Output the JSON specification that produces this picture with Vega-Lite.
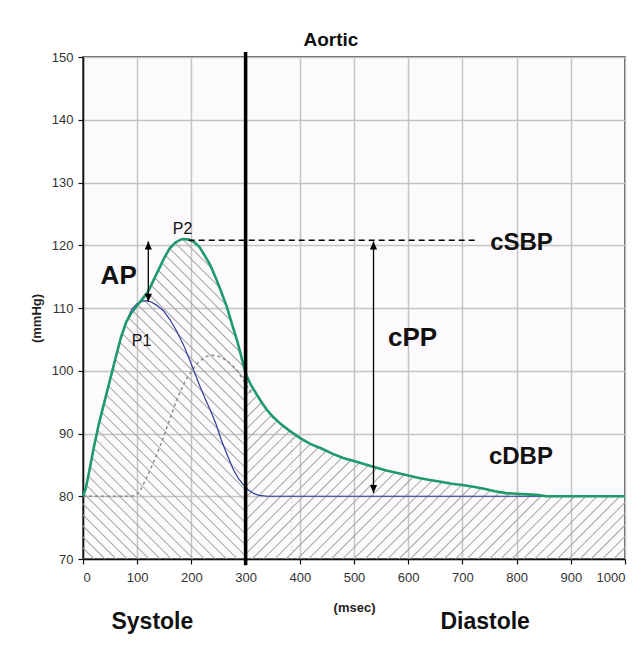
{
  "$schema": "https://vega.github.io/schema/vega-lite/v6.json",
  "width": 542,
  "height": 502,
  "autosize": "none",
  "padding": {"left": 83, "top": 57, "right": 18, "bottom": 91},
  "background": "#ffffff",
  "title": {"text": "Aortic", "font": "Liberation Sans", "fontSize": 19, "fontWeight": "bold", "color": "#111111", "dx": -23, "offset": 0},
  "config": {
    "font": "Liberation Sans",
    "view": {"stroke": "#222222", "strokeWidth": 1.5, "fill": "#fcfafc"},
    "axis": {"domainColor": "#111111", "domainWidth": 1.5, "tickColor": "#111111", "tickWidth": 1.2, "tickSize": 5, "labelFont": "Liberation Sans", "labelFontSize": 13, "labelColor": "#333333", "gridColor": "#c4c4c4", "gridWidth": 1.5, "titleFont": "Liberation Sans", "titleFontSize": 13, "titleFontWeight": "bold", "titleColor": "#222222"}
  },
  "datasets": {
    "green": [
      {"t":0,"p":80},{"t":5,"p":81.2},{"t":10,"p":83.3},{"t":20,"p":87.8},{"t":30,"p":91.8},{"t":40,"p":95.2},{"t":50,"p":98.6},{"t":60,"p":102},{"t":70,"p":105.3},{"t":80,"p":107.8},{"t":90,"p":109.3},{"t":100,"p":110.4},{"t":110,"p":111.5},{"t":120,"p":112.6},{"t":130,"p":114.4},{"t":140,"p":116.2},{"t":150,"p":118},{"t":160,"p":119.5},{"t":170,"p":120.4},{"t":180,"p":120.9},{"t":185,"p":121},{"t":195,"p":120.9},{"t":205,"p":120.5},{"t":215,"p":119.7},{"t":225,"p":118.3},{"t":235,"p":116.8},{"t":245,"p":114.8},{"t":255,"p":112.6},{"t":265,"p":110.3},{"t":275,"p":107.4},{"t":285,"p":104.6},{"t":295,"p":101.3},{"t":300,"p":99.6},{"t":310,"p":97.7},{"t":320,"p":96.3},{"t":330,"p":94.9},{"t":340,"p":93.7},{"t":350,"p":92.7},{"t":365,"p":91.5},{"t":380,"p":90.5},{"t":400,"p":89.3},{"t":420,"p":88.3},{"t":440,"p":87.6},{"t":460,"p":86.8},{"t":480,"p":86.1},{"t":500,"p":85.6},{"t":520,"p":85.1},{"t":540,"p":84.6},{"t":560,"p":84.1},{"t":580,"p":83.7},{"t":600,"p":83.3},{"t":620,"p":82.9},{"t":640,"p":82.6},{"t":660,"p":82.3},{"t":680,"p":82},{"t":700,"p":81.8},{"t":720,"p":81.5},{"t":740,"p":81.2},{"t":760,"p":80.8},{"t":780,"p":80.5},{"t":800,"p":80.4},{"t":820,"p":80.3},{"t":840,"p":80.2},{"t":855,"p":80},{"t":1000,"p":80}
    ],
    "blue": [
      {"t":0,"p":80},{"t":5,"p":81.2},{"t":10,"p":83.3},{"t":20,"p":87.8},{"t":30,"p":91.8},{"t":40,"p":95.2},{"t":50,"p":98.6},{"t":60,"p":102},{"t":70,"p":105.3},{"t":80,"p":107.9},{"t":90,"p":109.8},{"t":100,"p":110.7},{"t":110,"p":111.1},{"t":117,"p":111.15},{"t":125,"p":111},{"t":135,"p":110.5},{"t":148,"p":109.6},{"t":160,"p":108.2},{"t":173,"p":106.3},{"t":185,"p":104.2},{"t":195,"p":102.1},{"t":205,"p":99.9},{"t":215,"p":97.7},{"t":225,"p":95.6},{"t":235,"p":93.7},{"t":245,"p":91.6},{"t":255,"p":89},{"t":265,"p":86.8},{"t":277,"p":84.3},{"t":287,"p":82.8},{"t":296,"p":81.8},{"t":305,"p":81},{"t":315,"p":80.45},{"t":325,"p":80.15},{"t":340,"p":80},{"t":855,"p":80}
    ],
    "reflected": [
      {"t":0,"p":80},{"t":90,"p":80},{"t":97,"p":80.2},{"t":105,"p":80.8},{"t":117,"p":82.9},{"t":130,"p":85.4},{"t":142,"p":87.9},{"t":157,"p":91.5},{"t":173,"p":95.4},{"t":190,"p":98.6},{"t":210,"p":101.1},{"t":225,"p":102.2},{"t":237,"p":102.5},{"t":250,"p":102.3},{"t":262,"p":101.8},{"t":274,"p":101},{"t":285,"p":100},{"t":295,"p":98.6},{"t":305,"p":97.2},{"t":312,"p":96.3}
    ]
  },
  "encoding": {
    "x": {"field": "t", "type": "quantitative", "scale": {"domain": [0, 1000], "nice": false}, "axis": {"values": [0,100,200,300,400,500,600,700,800,900,1000], "format": "d", "title": "(msec)", "labelPadding": 7, "titleY": 48, "titleBaseline": "middle"}},
    "y": {"field": "p", "type": "quantitative", "scale": {"domain": [70, 150], "nice": false, "zero": false}, "axis": {"values": [70,80,90,100,110,120,130,140,150], "title": "(mmHg)", "labelPadding": 5, "titleX": -47, "titleY": 261, "titleAngle": -90, "titleAlign": "center", "titleBaseline": "middle"}}
  },
  "layer": [
    {
      "data": {"name": "green"},
      "transform": [{"filter": "datum.t <= 300"}],
      "mark": {"type": "area", "fill": {"gradient": "linear", "x1": 0, "y1": 1, "x2": 0.696, "y2": -0.37, "stops": [
        {"offset":0,"color":"#a4a4a4"},{"offset":0.0025,"color":"rgba(164,164,164,0)"},
        {"offset":0.0175,"color":"rgba(164,164,164,0)"},{"offset":0.02,"color":"#a4a4a4"},{"offset":0.0225,"color":"rgba(164,164,164,0)"},
        {"offset":0.0375,"color":"rgba(164,164,164,0)"},{"offset":0.04,"color":"#a4a4a4"},{"offset":0.0425,"color":"rgba(164,164,164,0)"},
        {"offset":0.0575,"color":"rgba(164,164,164,0)"},{"offset":0.06,"color":"#a4a4a4"},{"offset":0.0625,"color":"rgba(164,164,164,0)"},
        {"offset":0.0775,"color":"rgba(164,164,164,0)"},{"offset":0.08,"color":"#a4a4a4"},{"offset":0.0825,"color":"rgba(164,164,164,0)"},
        {"offset":0.0975,"color":"rgba(164,164,164,0)"},{"offset":0.1,"color":"#a4a4a4"},{"offset":0.1025,"color":"rgba(164,164,164,0)"},
        {"offset":0.1175,"color":"rgba(164,164,164,0)"},{"offset":0.12,"color":"#a4a4a4"},{"offset":0.1225,"color":"rgba(164,164,164,0)"},
        {"offset":0.1375,"color":"rgba(164,164,164,0)"},{"offset":0.14,"color":"#a4a4a4"},{"offset":0.1425,"color":"rgba(164,164,164,0)"},
        {"offset":0.1575,"color":"rgba(164,164,164,0)"},{"offset":0.16,"color":"#a4a4a4"},{"offset":0.1625,"color":"rgba(164,164,164,0)"},
        {"offset":0.1775,"color":"rgba(164,164,164,0)"},{"offset":0.18,"color":"#a4a4a4"},{"offset":0.1825,"color":"rgba(164,164,164,0)"},
        {"offset":0.1975,"color":"rgba(164,164,164,0)"},{"offset":0.2,"color":"#a4a4a4"},{"offset":0.2025,"color":"rgba(164,164,164,0)"},
        {"offset":0.2175,"color":"rgba(164,164,164,0)"},{"offset":0.22,"color":"#a4a4a4"},{"offset":0.2225,"color":"rgba(164,164,164,0)"},
        {"offset":0.2375,"color":"rgba(164,164,164,0)"},{"offset":0.24,"color":"#a4a4a4"},{"offset":0.2425,"color":"rgba(164,164,164,0)"},
        {"offset":0.2575,"color":"rgba(164,164,164,0)"},{"offset":0.26,"color":"#a4a4a4"},{"offset":0.2625,"color":"rgba(164,164,164,0)"},
        {"offset":0.2775,"color":"rgba(164,164,164,0)"},{"offset":0.28,"color":"#a4a4a4"},{"offset":0.2825,"color":"rgba(164,164,164,0)"},
        {"offset":0.2975,"color":"rgba(164,164,164,0)"},{"offset":0.3,"color":"#a4a4a4"},{"offset":0.3025,"color":"rgba(164,164,164,0)"},
        {"offset":0.3175,"color":"rgba(164,164,164,0)"},{"offset":0.32,"color":"#a4a4a4"},{"offset":0.3225,"color":"rgba(164,164,164,0)"},
        {"offset":0.3375,"color":"rgba(164,164,164,0)"},{"offset":0.34,"color":"#a4a4a4"},{"offset":0.3425,"color":"rgba(164,164,164,0)"},
        {"offset":0.3575,"color":"rgba(164,164,164,0)"},{"offset":0.36,"color":"#a4a4a4"},{"offset":0.3625,"color":"rgba(164,164,164,0)"},
        {"offset":0.3775,"color":"rgba(164,164,164,0)"},{"offset":0.38,"color":"#a4a4a4"},{"offset":0.3825,"color":"rgba(164,164,164,0)"},
        {"offset":0.3975,"color":"rgba(164,164,164,0)"},{"offset":0.4,"color":"#a4a4a4"},{"offset":0.4025,"color":"rgba(164,164,164,0)"},
        {"offset":0.4175,"color":"rgba(164,164,164,0)"},{"offset":0.42,"color":"#a4a4a4"},{"offset":0.4225,"color":"rgba(164,164,164,0)"},
        {"offset":0.4375,"color":"rgba(164,164,164,0)"},{"offset":0.44,"color":"#a4a4a4"},{"offset":0.4425,"color":"rgba(164,164,164,0)"},
        {"offset":0.4575,"color":"rgba(164,164,164,0)"},{"offset":0.46,"color":"#a4a4a4"},{"offset":0.4625,"color":"rgba(164,164,164,0)"},
        {"offset":0.4775,"color":"rgba(164,164,164,0)"},{"offset":0.48,"color":"#a4a4a4"},{"offset":0.4825,"color":"rgba(164,164,164,0)"},
        {"offset":0.4975,"color":"rgba(164,164,164,0)"},{"offset":0.5,"color":"#a4a4a4"},{"offset":0.5025,"color":"rgba(164,164,164,0)"},
        {"offset":0.5175,"color":"rgba(164,164,164,0)"},{"offset":0.52,"color":"#a4a4a4"},{"offset":0.5225,"color":"rgba(164,164,164,0)"},
        {"offset":0.5375,"color":"rgba(164,164,164,0)"},{"offset":0.54,"color":"#a4a4a4"},{"offset":0.5425,"color":"rgba(164,164,164,0)"},
        {"offset":0.5575,"color":"rgba(164,164,164,0)"},{"offset":0.56,"color":"#a4a4a4"},{"offset":0.5625,"color":"rgba(164,164,164,0)"},
        {"offset":0.5775,"color":"rgba(164,164,164,0)"},{"offset":0.58,"color":"#a4a4a4"},{"offset":0.5825,"color":"rgba(164,164,164,0)"},
        {"offset":0.5975,"color":"rgba(164,164,164,0)"},{"offset":0.6,"color":"#a4a4a4"},{"offset":0.6025,"color":"rgba(164,164,164,0)"},
        {"offset":0.6175,"color":"rgba(164,164,164,0)"},{"offset":0.62,"color":"#a4a4a4"},{"offset":0.6225,"color":"rgba(164,164,164,0)"},
        {"offset":0.6375,"color":"rgba(164,164,164,0)"},{"offset":0.64,"color":"#a4a4a4"},{"offset":0.6425,"color":"rgba(164,164,164,0)"},
        {"offset":0.6575,"color":"rgba(164,164,164,0)"},{"offset":0.66,"color":"#a4a4a4"},{"offset":0.6625,"color":"rgba(164,164,164,0)"},
        {"offset":0.6775,"color":"rgba(164,164,164,0)"},{"offset":0.68,"color":"#a4a4a4"},{"offset":0.6825,"color":"rgba(164,164,164,0)"},
        {"offset":0.6975,"color":"rgba(164,164,164,0)"},{"offset":0.7,"color":"#a4a4a4"},{"offset":0.7025,"color":"rgba(164,164,164,0)"},
        {"offset":0.7175,"color":"rgba(164,164,164,0)"},{"offset":0.72,"color":"#a4a4a4"},{"offset":0.7225,"color":"rgba(164,164,164,0)"},
        {"offset":0.7375,"color":"rgba(164,164,164,0)"},{"offset":0.74,"color":"#a4a4a4"},{"offset":0.7425,"color":"rgba(164,164,164,0)"},
        {"offset":0.7575,"color":"rgba(164,164,164,0)"},{"offset":0.76,"color":"#a4a4a4"},{"offset":0.7625,"color":"rgba(164,164,164,0)"},
        {"offset":0.7775,"color":"rgba(164,164,164,0)"},{"offset":0.78,"color":"#a4a4a4"},{"offset":0.7825,"color":"rgba(164,164,164,0)"},
        {"offset":0.7975,"color":"rgba(164,164,164,0)"},{"offset":0.8,"color":"#a4a4a4"},{"offset":0.8025,"color":"rgba(164,164,164,0)"},
        {"offset":0.8175,"color":"rgba(164,164,164,0)"},{"offset":0.82,"color":"#a4a4a4"},{"offset":0.8225,"color":"rgba(164,164,164,0)"},
        {"offset":0.8375,"color":"rgba(164,164,164,0)"},{"offset":0.84,"color":"#a4a4a4"},{"offset":0.8425,"color":"rgba(164,164,164,0)"},
        {"offset":0.8575,"color":"rgba(164,164,164,0)"},{"offset":0.86,"color":"#a4a4a4"},{"offset":0.8625,"color":"rgba(164,164,164,0)"},
        {"offset":0.8775,"color":"rgba(164,164,164,0)"},{"offset":0.88,"color":"#a4a4a4"},{"offset":0.8825,"color":"rgba(164,164,164,0)"}
      ]}},
      "encoding": {"y2": {"datum": 70}}
    },
    {
      "data": {"name": "green"},
      "transform": [{"filter": "datum.t >= 300"}],
      "mark": {"type": "area", "fill": {"gradient": "linear", "x1": 0, "y1": 0, "x2": 1.2015, "y2": 0.588, "stops": [
        {"offset":0,"color":"#a4a4a4"},{"offset":0.0025,"color":"rgba(164,164,164,0)"},
        {"offset":0.0175,"color":"rgba(164,164,164,0)"},{"offset":0.02,"color":"#a4a4a4"},{"offset":0.0225,"color":"rgba(164,164,164,0)"},
        {"offset":0.0375,"color":"rgba(164,164,164,0)"},{"offset":0.04,"color":"#a4a4a4"},{"offset":0.0425,"color":"rgba(164,164,164,0)"},
        {"offset":0.0575,"color":"rgba(164,164,164,0)"},{"offset":0.06,"color":"#a4a4a4"},{"offset":0.0625,"color":"rgba(164,164,164,0)"},
        {"offset":0.0775,"color":"rgba(164,164,164,0)"},{"offset":0.08,"color":"#a4a4a4"},{"offset":0.0825,"color":"rgba(164,164,164,0)"},
        {"offset":0.0975,"color":"rgba(164,164,164,0)"},{"offset":0.1,"color":"#a4a4a4"},{"offset":0.1025,"color":"rgba(164,164,164,0)"},
        {"offset":0.1175,"color":"rgba(164,164,164,0)"},{"offset":0.12,"color":"#a4a4a4"},{"offset":0.1225,"color":"rgba(164,164,164,0)"},
        {"offset":0.1375,"color":"rgba(164,164,164,0)"},{"offset":0.14,"color":"#a4a4a4"},{"offset":0.1425,"color":"rgba(164,164,164,0)"},
        {"offset":0.1575,"color":"rgba(164,164,164,0)"},{"offset":0.16,"color":"#a4a4a4"},{"offset":0.1625,"color":"rgba(164,164,164,0)"},
        {"offset":0.1775,"color":"rgba(164,164,164,0)"},{"offset":0.18,"color":"#a4a4a4"},{"offset":0.1825,"color":"rgba(164,164,164,0)"},
        {"offset":0.1975,"color":"rgba(164,164,164,0)"},{"offset":0.2,"color":"#a4a4a4"},{"offset":0.2025,"color":"rgba(164,164,164,0)"},
        {"offset":0.2175,"color":"rgba(164,164,164,0)"},{"offset":0.22,"color":"#a4a4a4"},{"offset":0.2225,"color":"rgba(164,164,164,0)"},
        {"offset":0.2375,"color":"rgba(164,164,164,0)"},{"offset":0.24,"color":"#a4a4a4"},{"offset":0.2425,"color":"rgba(164,164,164,0)"},
        {"offset":0.2575,"color":"rgba(164,164,164,0)"},{"offset":0.26,"color":"#a4a4a4"},{"offset":0.2625,"color":"rgba(164,164,164,0)"},
        {"offset":0.2775,"color":"rgba(164,164,164,0)"},{"offset":0.28,"color":"#a4a4a4"},{"offset":0.2825,"color":"rgba(164,164,164,0)"},
        {"offset":0.2975,"color":"rgba(164,164,164,0)"},{"offset":0.3,"color":"#a4a4a4"},{"offset":0.3025,"color":"rgba(164,164,164,0)"},
        {"offset":0.3175,"color":"rgba(164,164,164,0)"},{"offset":0.32,"color":"#a4a4a4"},{"offset":0.3225,"color":"rgba(164,164,164,0)"},
        {"offset":0.3375,"color":"rgba(164,164,164,0)"},{"offset":0.34,"color":"#a4a4a4"},{"offset":0.3425,"color":"rgba(164,164,164,0)"},
        {"offset":0.3575,"color":"rgba(164,164,164,0)"},{"offset":0.36,"color":"#a4a4a4"},{"offset":0.3625,"color":"rgba(164,164,164,0)"},
        {"offset":0.3775,"color":"rgba(164,164,164,0)"},{"offset":0.38,"color":"#a4a4a4"},{"offset":0.3825,"color":"rgba(164,164,164,0)"},
        {"offset":0.3975,"color":"rgba(164,164,164,0)"},{"offset":0.4,"color":"#a4a4a4"},{"offset":0.4025,"color":"rgba(164,164,164,0)"},
        {"offset":0.4175,"color":"rgba(164,164,164,0)"},{"offset":0.42,"color":"#a4a4a4"},{"offset":0.4225,"color":"rgba(164,164,164,0)"},
        {"offset":0.4375,"color":"rgba(164,164,164,0)"},{"offset":0.44,"color":"#a4a4a4"},{"offset":0.4425,"color":"rgba(164,164,164,0)"},
        {"offset":0.4575,"color":"rgba(164,164,164,0)"},{"offset":0.46,"color":"#a4a4a4"},{"offset":0.4625,"color":"rgba(164,164,164,0)"},
        {"offset":0.4775,"color":"rgba(164,164,164,0)"},{"offset":0.48,"color":"#a4a4a4"},{"offset":0.4825,"color":"rgba(164,164,164,0)"},
        {"offset":0.4975,"color":"rgba(164,164,164,0)"},{"offset":0.5,"color":"#a4a4a4"},{"offset":0.5025,"color":"rgba(164,164,164,0)"},
        {"offset":0.5175,"color":"rgba(164,164,164,0)"},{"offset":0.52,"color":"#a4a4a4"},{"offset":0.5225,"color":"rgba(164,164,164,0)"},
        {"offset":0.5375,"color":"rgba(164,164,164,0)"},{"offset":0.54,"color":"#a4a4a4"},{"offset":0.5425,"color":"rgba(164,164,164,0)"},
        {"offset":0.5575,"color":"rgba(164,164,164,0)"},{"offset":0.56,"color":"#a4a4a4"},{"offset":0.5625,"color":"rgba(164,164,164,0)"},
        {"offset":0.5775,"color":"rgba(164,164,164,0)"},{"offset":0.58,"color":"#a4a4a4"},{"offset":0.5825,"color":"rgba(164,164,164,0)"},
        {"offset":0.5975,"color":"rgba(164,164,164,0)"},{"offset":0.6,"color":"#a4a4a4"},{"offset":0.6025,"color":"rgba(164,164,164,0)"},
        {"offset":0.6175,"color":"rgba(164,164,164,0)"},{"offset":0.62,"color":"#a4a4a4"},{"offset":0.6225,"color":"rgba(164,164,164,0)"},
        {"offset":0.6375,"color":"rgba(164,164,164,0)"},{"offset":0.64,"color":"#a4a4a4"},{"offset":0.6425,"color":"rgba(164,164,164,0)"},
        {"offset":0.6575,"color":"rgba(164,164,164,0)"},{"offset":0.66,"color":"#a4a4a4"},{"offset":0.6625,"color":"rgba(164,164,164,0)"},
        {"offset":0.6775,"color":"rgba(164,164,164,0)"},{"offset":0.68,"color":"#a4a4a4"},{"offset":0.6825,"color":"rgba(164,164,164,0)"},
        {"offset":0.6975,"color":"rgba(164,164,164,0)"},{"offset":0.7,"color":"#a4a4a4"},{"offset":0.7025,"color":"rgba(164,164,164,0)"},
        {"offset":0.7175,"color":"rgba(164,164,164,0)"},{"offset":0.72,"color":"#a4a4a4"},{"offset":0.7225,"color":"rgba(164,164,164,0)"},
        {"offset":0.7375,"color":"rgba(164,164,164,0)"},{"offset":0.74,"color":"#a4a4a4"},{"offset":0.7425,"color":"rgba(164,164,164,0)"},
        {"offset":0.7575,"color":"rgba(164,164,164,0)"},{"offset":0.76,"color":"#a4a4a4"},{"offset":0.7625,"color":"rgba(164,164,164,0)"},
        {"offset":0.7775,"color":"rgba(164,164,164,0)"},{"offset":0.78,"color":"#a4a4a4"},{"offset":0.7825,"color":"rgba(164,164,164,0)"},
        {"offset":0.7975,"color":"rgba(164,164,164,0)"},{"offset":0.8,"color":"#a4a4a4"},{"offset":0.8025,"color":"rgba(164,164,164,0)"},
        {"offset":0.8175,"color":"rgba(164,164,164,0)"},{"offset":0.82,"color":"#a4a4a4"},{"offset":0.8225,"color":"rgba(164,164,164,0)"},
        {"offset":0.8375,"color":"rgba(164,164,164,0)"},{"offset":0.84,"color":"#a4a4a4"},{"offset":0.8425,"color":"rgba(164,164,164,0)"},
        {"offset":0.8575,"color":"rgba(164,164,164,0)"},{"offset":0.86,"color":"#a4a4a4"},{"offset":0.8625,"color":"rgba(164,164,164,0)"},
        {"offset":0.8775,"color":"rgba(164,164,164,0)"},{"offset":0.88,"color":"#a4a4a4"},{"offset":0.8825,"color":"rgba(164,164,164,0)"},
        {"offset":0.8975,"color":"rgba(164,164,164,0)"},{"offset":0.9,"color":"#a4a4a4"},{"offset":0.9025,"color":"rgba(164,164,164,0)"},
        {"offset":0.9175,"color":"rgba(164,164,164,0)"},{"offset":0.92,"color":"#a4a4a4"},{"offset":0.9225,"color":"rgba(164,164,164,0)"},
        {"offset":0.9375,"color":"rgba(164,164,164,0)"},{"offset":0.94,"color":"#a4a4a4"},{"offset":0.9425,"color":"rgba(164,164,164,0)"},
        {"offset":0.9575,"color":"rgba(164,164,164,0)"},{"offset":0.96,"color":"#a4a4a4"},{"offset":0.9625,"color":"rgba(164,164,164,0)"},
        {"offset":0.9775,"color":"rgba(164,164,164,0)"},{"offset":0.98,"color":"#a4a4a4"},{"offset":0.9825,"color":"rgba(164,164,164,0)"},
        {"offset":0.9975,"color":"rgba(164,164,164,0)"},{"offset":1,"color":"#a4a4a4"}
      ]}},
      "encoding": {"y2": {"datum": 70}}
    },
    {
      "data": {"values": [{"t": 385, "p": 70, "p2": 90.4}]},
      "mark": {"type": "rule", "color": "#b0b0b0", "strokeWidth": 1, "strokeDash": [1, 3]},
      "encoding": {"y2": {"field": "p2"}}
    },
    {
      "data": {"name": "reflected"},
      "mark": {"type": "line", "color": "#8c8c8c", "strokeWidth": 1.5, "strokeDash": [3, 3]},
      "encoding": {}
    },
    {
      "data": {"name": "blue"},
      "mark": {"type": "line", "color": "#2e3c9c", "strokeWidth": 1.2},
      "encoding": {}
    },
    {
      "data": {"name": "green"},
      "mark": {"type": "line", "color": "#1f9a6a", "strokeWidth": 2.6},
      "encoding": {}
    },
    {
      "data": {"values": [{"t": 300, "p": 69, "p2": 150.8}]},
      "mark": {"type": "rule", "color": "#000000", "strokeWidth": 3.5},
      "encoding": {"y2": {"field": "p2"}}
    },
    {
      "data": {"values": [{"t": 195, "t2": 727, "p": 120.8}]},
      "mark": {"type": "rule", "color": "#000000", "strokeWidth": 1.5, "strokeDash": [6, 4]},
      "encoding": {"x2": {"field": "t2"}}
    },
    {
      "data": {"values": [{"t": 536, "p": 80.5, "p2": 120.6}, {"t": 120.5, "p": 111, "p2": 120.6}]},
      "mark": {"type": "rule", "color": "#000000", "strokeWidth": 1.3},
      "encoding": {"y2": {"field": "p2"}}
    },
    {
      "data": {"values": [{"t": 536, "p": 120.6}, {"t": 120.5, "p": 120.6}]},
      "mark": {"type": "point", "shape": "M0,0L-0.45,1L0.45,1Z", "filled": true, "color": "#000000", "opacity": 1, "size": 256},
      "encoding": {}
    },
    {
      "data": {"values": [{"t": 536, "p": 80.5}, {"t": 120.5, "p": 111}]},
      "mark": {"type": "point", "shape": "M0,0L-0.45,-1L0.45,-1Z", "filled": true, "color": "#000000", "opacity": 1, "size": 256},
      "encoding": {}
    },
    {
      "data": {"values": [{"t": 65.8, "p": 115.1, "label": "AP"}, {"t": 608, "p": 105.2, "label": "cPP"}]},
      "mark": {"type": "text", "font": "Liberation Sans", "fontSize": 26, "fontWeight": "bold", "color": "#111111", "align": "center", "baseline": "middle"},
      "encoding": {"text": {"field": "label"}}
    },
    {
      "data": {"values": [{"t": 809, "p": 120.4, "label": "cSBP"}, {"t": 808, "p": 86.2, "label": "cDBP"}]},
      "mark": {"type": "text", "font": "Liberation Sans", "fontSize": 24, "fontWeight": "bold", "color": "#111111", "align": "center", "baseline": "middle"},
      "encoding": {"text": {"field": "label"}}
    },
    {
      "data": {"values": [{"t": 108, "p": 104.7, "label": "P1"}, {"t": 183.6, "p": 122.6, "label": "P2"}]},
      "mark": {"type": "text", "font": "Liberation Sans", "fontSize": 16, "color": "#111111", "align": "center", "baseline": "middle"},
      "encoding": {"text": {"field": "label"}}
    },
    {
      "data": {"values": [{"t": 128, "p": 60, "label": "Systole"}, {"t": 742, "p": 60, "label": "Diastole"}]},
      "mark": {"type": "text", "font": "Liberation Sans", "fontSize": 23, "fontWeight": "bold", "color": "#111111", "align": "center", "baseline": "middle"},
      "encoding": {"text": {"field": "label"}}
    }
  ]
}
